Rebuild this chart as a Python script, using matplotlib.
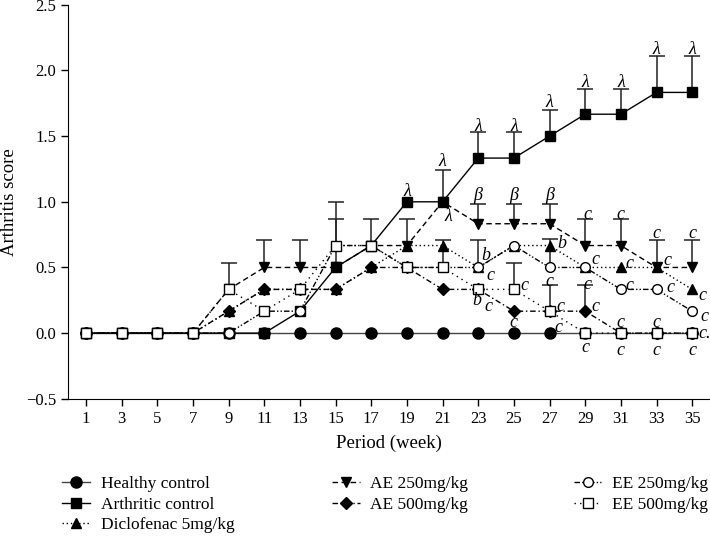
import numpy as np
import matplotlib
matplotlib.use("Agg")
import matplotlib.pyplot as plt

plt.rcParams['font.family'] = ['Liberation Serif', 'DejaVu Serif']

# weeks on the x axis
weeks = [1, 3, 5, 7, 9, 11, 13, 15, 17, 19, 21, 23, 25, 27, 29, 31, 33, 35]

# mean arthritis scores
healthy = [0, 0, 0, 0, 0, 0, 0, 0, 0, 0, 0, 0, 0, 0, 0, 0, 0, 0]
arthritic = [0, 0, 0, 0, 0, 0, 0.167, 0.5, 0.667, 1.0, 1.0, 1.333, 1.333, 1.5, 1.667, 1.667, 1.833, 1.833]
diclofenac = [0, 0, 0, 0, 0.167, 0.333, 0.333, 0.333, 0.5, 0.667, 0.667, 0.5, 0.667, 0.667, 0.5, 0.5, 0.5, 0.333]
ae250 = [0, 0, 0, 0, 0.333, 0.5, 0.5, 0.5, 0.667, 0.667, 1.0, 0.833, 0.833, 0.833, 0.667, 0.667, 0.5, 0.5]
ae500 = [0, 0, 0, 0, 0.167, 0.333, 0.333, 0.333, 0.5, 0.5, 0.333, 0.333, 0.167, 0.167, 0.167, 0, 0, 0]
ee250 = [0, 0, 0, 0, 0, 0.167, 0.167, 0.667, 0.667, 0.5, 0.5, 0.5, 0.667, 0.5, 0.5, 0.333, 0.333, 0.167]
ee500 = [0, 0, 0, 0, 0.333, 0.167, 0.333, 0.667, 0.667, 0.5, 0.5, 0.333, 0.333, 0.167, 0, 0, 0, 0]

# upper error (SEM), 0 = no bar shown
arthritic_err = [0, 0, 0, 0, 0, 0, 0, 0.5, 0.2, 0, 0.24, 0.2, 0.2, 0.2, 0.19, 0.19, 0.28, 0.28]
ae250_err = [0, 0, 0, 0, 0.2, 0.21, 0.21, 0, 0, 0.2, 0, 0.15, 0.15, 0.15, 0.2, 0.2, 0.21, 0.21]
ae500_err = [0, 0, 0, 0, 0, 0, 0, 0, 0, 0, 0, 0, 0, 0.2, 0.2, 0, 0, 0]
ee250_err = [0, 0, 0, 0, 0, 0, 0, 0.2, 0, 0, 0, 0.21, 0, 0.22, 0, 0, 0, 0]
ee500_err = [0, 0, 0, 0, 0, 0, 0, 0, 0, 0, 0.21, 0, 0.2, 0, 0, 0, 0, 0]

# significance letters: (week, y, text)
letters = [
    (19, 1.08, 'λ'), (21, 1.31, 'λ'), (23, 1.57, 'λ'), (25, 1.57, 'λ'),
    (27, 1.76, 'λ'), (29, 1.91, 'λ'), (31, 1.91, 'λ'), (33, 2.16, 'λ'), (35, 2.16, 'λ'),
    (21.3, 0.89, 'λ'),
    (23, 1.05, 'β'), (25, 1.05, 'β'), (27, 1.05, 'β'),
    (23.4, 0.59, 'b'), (23.7, 0.44, 'c'), (22.9, 0.25, 'b'), (23.6, 0.2, 'c'),
    (25.6, 0.36, 'c'), (25, 0.08, 'c'),
    (27.7, 0.68, 'b'), (27, 0.39, 'c'), (27.6, 0.2, 'c'), (27.5, 0.04, 'c'),
    (29.1, 0.9, 'c'), (29.6, 0.56, 'c'), (29.1, 0.37, 'c'), (29.6, 0.2, 'c'), (29, -0.11, 'c'),
    (31, 0.9, 'c'), (31.5, 0.53, 'c'), (31.5, 0.36, 'c'), (31, 0.08, 'c'), (31, -0.13, 'c'),
    (33, 0.76, 'c'), (33.6, 0.55, 'c'), (33.8, 0.35, 'c'), (33, 0.08, 'c'), (33, -0.13, 'c'),
    (35, 0.76, 'c'), (35.6, 0.29, 'c'), (35.7, 0.13, 'c'), (35.7, 0.0, 'c.'), (35, -0.13, 'c'),
]

fig = plt.figure(figsize=(7.1, 5.36), dpi=100)
ax = fig.add_axes([0.096, 0.256, 0.904, 0.735])

series = [
    ('Healthy control', healthy, None, dict(color='#444444', ls='-', marker='o', mfc='black', ms=8)),
    ('Arthritic control', arthritic, arthritic_err, dict(color='black', ls='-', marker='s', mfc='black', ms=7)),
    ('Diclofenac 5mg/kg', diclofenac, None, dict(color='black', ls=(0, (1, 2)), marker='^', mfc='black', ms=7)),
    ('AE 250mg/kg', ae250, ae250_err, dict(color='black', ls=(0, (4, 2.5)), marker='v', mfc='black', ms=7)),
    ('AE 500mg/kg', ae500, ae500_err, dict(color='black', ls=(0, (4, 2, 1, 2)), marker='D', mfc='black', ms=6)),
    ('EE 250mg/kg', ee250, ee250_err, dict(color='black', ls=(0, (4, 1.5, 1, 1.5, 1, 1.5)), marker='o', mfc='white', ms=7)),
    ('EE 500mg/kg', ee500, ee500_err, dict(color='black', ls=(0, (1, 3)), marker='s', mfc='white', ms=7)),
]

x = np.array(weeks)
for name, vals, err, st in series:
    vals = np.array(vals)
    if err is not None:
        err = np.array(err)
        m = err > 0
        eb = ax.errorbar(x[m], vals[m], yerr=[np.zeros(m.sum()), err[m]], fmt='none',
                         ecolor='#222222', elinewidth=1.1, capsize=6, capthick=1.1, zorder=2)
        eb[1][0].set_visible(False)

for name, vals, err, st in series:
    ax.plot(x, vals, lw=1.0, mec='black', mew=1.0, label=name, zorder=3, **st)

for wx, wy, t in letters:
    ax.text(wx, wy, t, ha='center', va='center', fontsize=13, style='italic', zorder=4)

ax.set_xlim(0, 36)
ax.set_ylim(-0.5, 2.5)
ax.set_xticks(weeks)
ax.set_yticks(np.arange(-0.5, 2.51, 0.5))
ax.set_yticklabels(['−0.5', '0.0', '0.5', '1.0', '1.5', '2.0', '2.5'])
ax.tick_params(labelsize=12, direction='out', length=5, width=1)
ax.spines['top'].set_visible(False)
ax.spines['right'].set_visible(False)
ax.set_xlabel('Period (week)', fontsize=13.5, labelpad=6)
ax.set_ylabel('Arthritis score', fontsize=13.5, labelpad=6)

handles, labels = ax.get_legend_handles_labels()
cols = [[0, 1, 2], [3, 4], [5, 6]]
col_x = [0.088, 0.468, 0.808]
for cx, idxs in zip(col_x, cols):
    fig.legend([handles[i] for i in idxs], [labels[i] for i in idxs],
               loc='upper left', bbox_to_anchor=(cx, 0.112), frameon=False,
               fontsize=12.5, handlelength=1.6, handletextpad=0.6, labelspacing=0.26,
               borderpad=0.0, borderaxespad=0.0)

fig.savefig('out.png', dpi=100)
